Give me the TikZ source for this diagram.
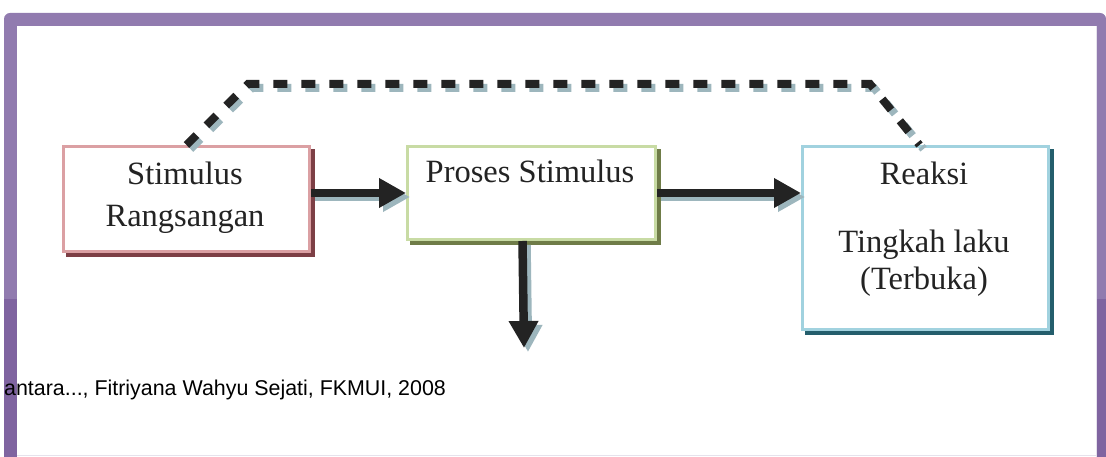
\documentclass[tikz,border=0pt]{standalone}
\usepackage{fontspec}
\setmainfont{Liberation Serif}
\newfontfamily\capfont{Liberation Sans}
\usetikzlibrary{arrows.meta,shadows}

\definecolor{frameA}{HTML}{917BAF}
\definecolor{frameB}{HTML}{7F64A0}
\definecolor{frameLine}{HTML}{E6E2EC}
\definecolor{ink}{HTML}{232323}
\definecolor{shade}{HTML}{9DB6BD}
\definecolor{pinkB}{HTML}{DBA0A3}
\definecolor{pinkS}{HTML}{7D3F45}
\definecolor{greenB}{HTML}{C8DBA4}
\definecolor{greenS}{HTML}{6F7C48}
\definecolor{blueB}{HTML}{A1D2DF}
\definecolor{blueS}{HTML}{245E6C}

\tikzset{
  box/.style={draw, fill=white, line width=3pt, inner sep=0pt, anchor=north west},
  boxshade/.style={drop shadow={shadow xshift=4pt, shadow yshift=-4pt,
      fill=#1, draw=#1, line width=3pt, opacity=1}},
  lbl/.style={anchor=base, inner sep=0pt, text=ink,
      font=\fontsize{32.5}{38}\selectfont},
  flow/.style={draw=ink, line width=8.5pt,
      -{Triangle[length=27pt, width=28pt]}},
  loopline/.style={draw=ink, line width=8pt, dash pattern=on 14pt off 14pt},
}

\begin{document}
\begin{tikzpicture}[x=1pt, y=-1pt]
\useasboundingbox (0,0) rectangle (1106,457);

% slide frame
\fill[frameA, rounded corners=6pt] (4,457) -- (4,13) -- (1106,13)
  [sharp corners] -- (1106,457) -- cycle;
\fill[frameB] (4,299) rectangle (17,457);
\fill[frameB] (1096,299) rectangle (1106,457);
\fill[white] (17,26) rectangle (1096,457);
\draw[frameLine, line width=1pt] (17,455.5) -- (1096,455.5);
\draw[frameLine, line width=0.8pt] (1096.4,26) -- (1096.4,457);

% boxes
\node[box, draw=pinkB, boxshade=pinkS, minimum width=246pt, minimum height=105pt]
  (b1) at (62,145) {};
\node[box, draw=greenB, boxshade=greenS, minimum width=248pt, minimum height=93pt]
  (b2) at (406,145) {};
\node[box, draw=blueB, boxshade=blueS, minimum width=246pt, minimum height=183pt]
  (b3) at (801,145) {};

\coordinate (c1) at (248,84);
\coordinate (c2) at (870,84);
\coordinate (down) at (524,348);

% shadows of the connectors
\begin{scope}[transform canvas={shift={(4pt,-4pt)}}]
  \draw[loopline, draw=shade] (b1.north) -- (c1) -- (c2) -- ([xshift=-6pt]b3.north);
  \draw[flow, draw=shade] (b1.east |- 0,193) -- (b2.west |- 0,193);
  \draw[flow, draw=shade] (b2.east |- 0,193) -- (b3.west |- 0,193);
  \draw[flow, draw=shade] ([xshift=-9pt]b2.south) -- (down);
\end{scope}

% connectors
\draw[loopline] (b1.north) -- (c1) -- (c2) -- ([xshift=-6pt]b3.north);
\draw[flow] (b1.east |- 0,193) -- (b2.west |- 0,193);
\draw[flow] (b2.east |- 0,193) -- (b3.west |- 0,193);
\draw[flow] ([xshift=-9pt]b2.south) -- (down);

% box texts
\node[lbl] (t1a) at (185,185) {Stimulus};
\node[lbl] (t1b) at (185,227) {Rangsangan};
\node[lbl] (t2) at (530,183) {Proses Stimulus};
\node[lbl] (t3a) at (924,185) {Reaksi};
\node[lbl] (t3b) at (924,252) {Tingkah laku};
\node[lbl] (t3c) at (924,289) {(Terbuka)};

% source line
\node[anchor=base west, inner sep=0pt, text=black,
  font=\capfont\fontsize{21.4}{25}\selectfont] (src) at (4,395)
  {antara..., Fitriyana Wahyu Sejati, FKMUI, 2008};
\end{tikzpicture}
\end{document}
